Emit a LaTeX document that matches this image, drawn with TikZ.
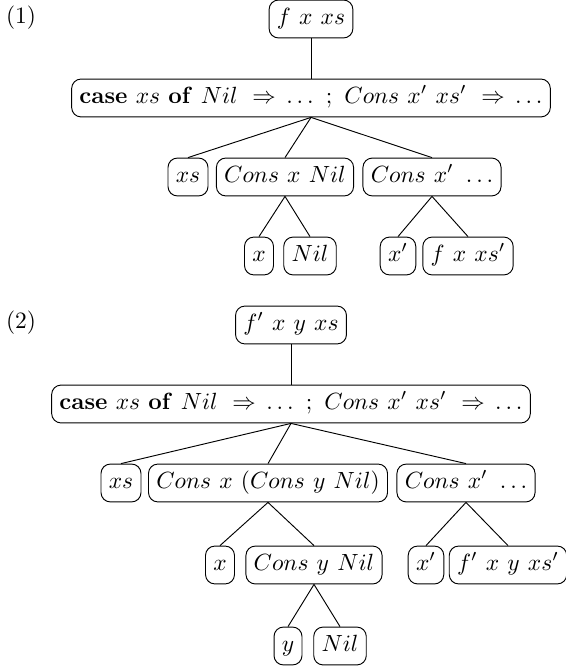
\documentclass[tikz,border=0pt]{standalone}
\newcommand\gp{\hskip 3.5pt}
\tikzset{
  tbox/.style={draw, rounded corners=4pt, inner sep=3.33pt, text height=7pt, text depth=2.5pt},
  lab/.style={inner sep=0pt}
}
\begin{document}
\begin{tikzpicture}[x=0.4266pt, y=-0.4266pt]
\useasboundingbox (0,0) rectangle (565,667);
% tree (1)
\node[lab] (lab1) at (21,18) {(1)};
\node[tbox] (t1) at (311,19) {$f\gp x\gp xs$};
\node[tbox] (c1) at (311,98) {$\mathbf{case}\gp xs\gp \mathbf{of}\gp Nil\gp\Rightarrow\,\ldots\gp;\gp Cons\gp x'\gp xs'\gp\Rightarrow\,\ldots$};
\node[tbox] (a1) at (188,177) {$xs$};
\node[tbox] (b1) at (285,177) {$Cons\gp x\gp Nil$};
\node[tbox] (d1) at (432,177) {$Cons\gp x'\gp\ldots$};
\node[tbox] (e1) at (259,256) {$x$};
\node[tbox] (f1) at (310,256) {$Nil$};
\node[tbox] (g1) at (398,256) {$x'$};
\node[tbox] (h1) at (468,256) {$f\gp x\gp xs'$};
\draw (t1.south) -- (c1.north);
\draw (c1.south) -- (a1.north);
\draw (c1.south) -- (b1.north);
\draw (c1.south) -- (d1.north);
\draw (b1.south) -- (e1.north);
\draw (b1.south) -- (f1.north);
\draw (d1.south) -- (g1.north);
\draw (d1.south) -- (h1.north);
% tree (2)
\node[lab] (lab2) at (21,323) {(2)};
\node[tbox] (t2) at (291,325) {$f'\gp x\gp y\gp xs$};
\node[tbox] (c2) at (291,404) {$\mathbf{case}\gp xs\gp \mathbf{of}\gp Nil\gp\Rightarrow\,\ldots\gp;\gp Cons\gp x'\gp xs'\gp\Rightarrow\,\ldots$};
\node[tbox] (a2) at (121,483) {$xs$};
\node[tbox] (b2) at (268,483) {$Cons\gp x\gp (Cons\gp y\gp Nil)$};
\node[tbox] (d2) at (466,483) {$Cons\gp x'\gp\ldots$};
\node[tbox] (e2) at (220,565) {$x$};
\node[tbox] (f2) at (314,565) {$Cons\gp y\gp Nil$};
\node[tbox] (g2) at (426,565) {$x'$};
\node[tbox] (h2) at (508,565) {$f'\gp x\gp y\gp xs'$};
\node[tbox] (i2) at (288,646) {$y$};
\node[tbox] (j2) at (340,646) {$Nil$};
\draw (t2.south) -- (c2.north);
\draw (c2.south) -- (a2.north);
\draw (c2.south) -- (b2.north);
\draw (c2.south) -- (d2.north);
\draw (b2.south) -- (e2.north);
\draw (b2.south) -- (f2.north);
\draw (d2.south) -- (g2.north);
\draw (d2.south) -- (h2.north);
\draw (f2.south) -- (i2.north);
\draw (f2.south) -- (j2.north);
\end{tikzpicture}
\end{document}
